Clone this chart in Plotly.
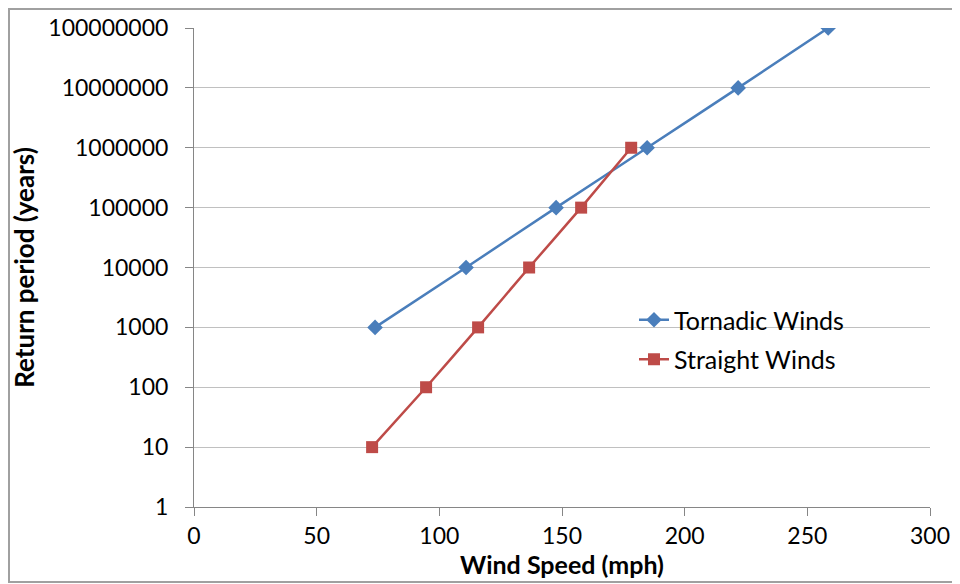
import plotly.graph_objects as go

tornadic_speed = [73.8, 110.9, 147.6, 184.7, 221.8, 258.5]
tornadic_period = [1e3, 1e4, 1e5, 1e6, 1e7, 1e8]
straight_speed = [72.6, 94.6, 115.8, 136.6, 157.8, 178.2]
straight_period = [1e1, 1e2, 1e3, 1e4, 1e5, 1e6]

y_tick_vals = [1, 10, 100, 1000, 10000, 100000, 1000000, 10000000, 100000000]
y_tick_text = ["1", "10", "100", "1000", "10000", "100000", "1000000", "10000000", "100000000"]
x_tick_vals = [0, 50, 100, 150, 200, 250, 300]

FONT = "Lato"
BLUE = "#4A7EBB"
RED = "#BE4B48"

fig = go.Figure()
fig.add_trace(go.Scatter(
    x=tornadic_speed, y=tornadic_period, name="Tornadic Winds",
    mode="lines+markers", legendgroup="a",
    line=dict(color=BLUE, width=2.5, shape="spline", smoothing=0.5),
    marker=dict(symbol="diamond", size=12, color=BLUE),
))
fig.add_trace(go.Scatter(
    x=straight_speed, y=straight_period, name="Straight Winds",
    mode="lines+markers", legendgroup="b",
    line=dict(color=RED, width=2.5, shape="spline", smoothing=0.5),
    marker=dict(symbol="square", size=12, color=RED),
))

# page body has an 8px margin, so the figure starts at (8, 8)
OFF = 8
W, H = 960 - OFF, 584 - OFF
L, T = 194 - OFF, 28 - OFF
pw, ph = 736, 479
R = W - L - pw
B = H - T - ph

def px_to_paper_x(px):
    return (px - OFF - L) / pw

def px_to_paper_y(py):
    return (T + ph - (py - OFF)) / ph

fig.update_layout(
    width=W, height=H,
    margin=dict(l=L, r=R, t=T, b=B, autoexpand=False),
    paper_bgcolor="white", plot_bgcolor="white",
    font=dict(family=FONT, color="black", size=23),
    showlegend=True,
    legend=dict(
        x=px_to_paper_x(634), y=px_to_paper_y(297),
        xanchor="left", yanchor="top",
        bgcolor="rgba(0,0,0,0)",
        font=dict(family=FONT, size=25, color="black"),
        traceorder="grouped", tracegroupgap=4, itemwidth=30,
    ),
    xaxis=dict(
        range=[0, 300], tickvals=x_tick_vals, automargin=False,
        showgrid=False, zeroline=False,
        showline=True, linecolor="#868686", linewidth=1,
        ticks="outside", ticklen=8, tickcolor="#868686",
        tickfont=dict(family=FONT, size=23),
        title=dict(text="<b>Wind Speed (mph)</b>", font=dict(family=FONT, size=25), standoff=2),
    ),
    yaxis=dict(
        type="log", range=[0, 8], automargin=False,
        tickvals=y_tick_vals, ticktext=y_tick_text,
        showgrid=True, gridcolor="#C0C0C0", gridwidth=1,
        zeroline=False,
        showline=True, linecolor="#868686", linewidth=1,
        ticks="outside", ticklen=8, tickcolor="#868686",
        tickfont=dict(family=FONT, size=23),
        ticklabelstandoff=12,
        title=dict(text="<b>Return period (years)</b>", font=dict(family=FONT, size=26), standoff=10),
    ),
    shapes=[
        dict(type="rect", xref="paper", yref="paper",
             x0=px_to_paper_x(9), x1=px_to_paper_x(975),
             y0=px_to_paper_y(582), y1=px_to_paper_y(9),
             line=dict(color="#A0A0A0", width=2), fillcolor="rgba(0,0,0,0)", layer="below"),
    ],
)

fig.write_html("out.html")
